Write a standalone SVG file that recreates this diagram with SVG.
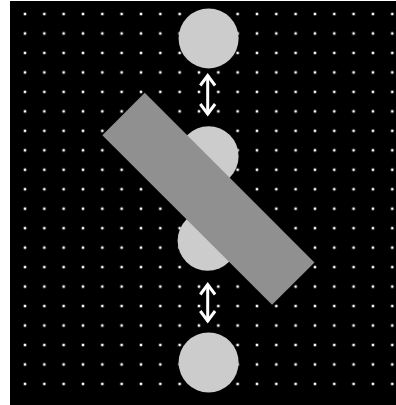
<svg xmlns="http://www.w3.org/2000/svg" width="396" height="405" viewBox="0 0 396 405">
  <defs>
    <pattern id="dots" x="25" y="14" width="19.33" height="19.47" patternUnits="userSpaceOnUse">
      <rect x="-1.25" y="-1.25" width="2.5" height="2.5" fill="#ffffff"/>
      <rect x="18.08" y="-1.25" width="2.5" height="2.5" fill="#ffffff"/>
      <rect x="-1.25" y="18.22" width="2.5" height="2.5" fill="#ffffff"/>
      <rect x="18.08" y="18.22" width="2.5" height="2.5" fill="#ffffff"/>
    </pattern>
    <style>
      .circ { fill: #cccccc; }
      .bar { fill: #909090; }
      .arrow { fill: none; stroke: #ffffff; stroke-width: 3; stroke-linecap: butt; stroke-linejoin: miter; }
    </style>
  </defs>
  <rect x="0" y="0" width="396" height="405" fill="#ffffff"/>
  <rect x="10" y="1" width="386" height="404" fill="#000000"/>
  <rect x="10" y="1" width="386" height="397" fill="url(#dots)"/>
  <g id="circle1"><circle class="circ" cx="208.6" cy="38.4" r="30"/></g>
  <g id="circle2"><circle class="circ" cx="208.6" cy="156.2" r="30"/></g>
  <g id="circle3"><circle class="circ" cx="207.6" cy="240.7" r="30"/></g>
  <g id="circle4"><circle class="circ" cx="208.6" cy="362.5" r="30"/></g>
  <g id="bar"><rect class="bar" x="88.4" y="168.8" width="240" height="60" transform="rotate(45 208.4 198.8)"/></g>
  <g id="connectors">
    <g id="arrow1">
      <path class="arrow" d="M207.7 75 L207.7 114.5"/>
      <path class="arrow" d="M200.3 85.5 L207.7 75.5 L215.1 85.5"/>
      <path class="arrow" d="M200.3 104 L207.7 114 L215.1 104"/>
    </g>
    <g id="arrow2">
      <path class="arrow" d="M207.7 284 L207.7 321.5"/>
      <path class="arrow" d="M200.3 294.5 L207.7 284.5 L215.1 294.5"/>
      <path class="arrow" d="M200.3 311 L207.7 321 L215.1 311"/>
    </g>
  </g>
</svg>
